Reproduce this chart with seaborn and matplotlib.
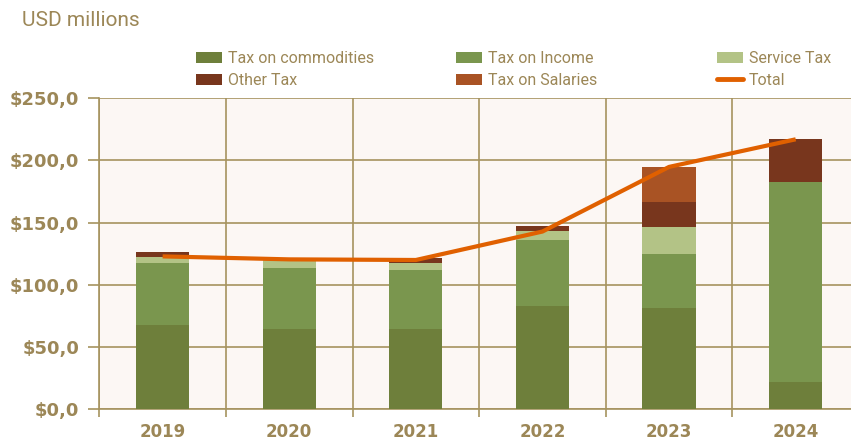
import numpy as np
import pandas as pd
import matplotlib
matplotlib.use("Agg")
import matplotlib.pyplot as plt
from matplotlib.patches import Patch
from matplotlib.lines import Line2D
from matplotlib.ticker import FuncFormatter, MultipleLocator
import seaborn as sns

# ---- data (USD millions) ----
years = ["2019", "2020", "2021", "2022", "2023", "2024"]
tax_commodities = [67.6, 64.4, 64.4, 83.0, 81.3, 21.7]
tax_income = [50.1, 49.0, 47.4, 53.0, 43.4, 160.9]
service_tax = [4.6, 6.5, 5.7, 7.2, 21.7, 0.0]
other_tax = [4.0, 0.0, 4.0, 4.0, 20.1, 34.6]
tax_salaries = [0.0, 0.0, 0.0, 0.0, 28.2, 0.0]
total = [122.8, 120.4, 119.9, 142.8, 194.8, 217.0]

series_names = ["Tax on commodities", "Tax on Income", "Service Tax",
                "Other Tax", "Tax on Salaries"]
series_values = [tax_commodities, tax_income, service_tax, other_tax, tax_salaries]
series_colors = ["#6e7f3b", "#7a964e", "#b3c386", "#78361d", "#a95324"]
total_color = "#e06000"

text_color = "#9c8757"
grid_color = "#a6935f"
plot_bg = "#fcf7f4"

sns.set_theme(style="white")
plt.rcParams["font.family"] = ["DejaVu Sans"]

fig = plt.figure(figsize=(8.51, 4.41), dpi=100)
fig.patch.set_facecolor("white")
ax = fig.add_axes([99.3 / 851, 32 / 441, 759.7 / 851, 310.7 / 441])
ax.set_facecolor(plot_bg)

# ---- stacked bars ----
df = pd.DataFrame({"year": years})
bottom = np.zeros(len(years))
for name, vals, col in zip(series_names, series_values, series_colors):
    df[name] = vals
    sns.barplot(data=df, x="year", y=name, order=years, color=col,
                width=0.42, bottom=bottom, saturation=1, ax=ax,
                linewidth=0, zorder=3)
    bottom = bottom + np.asarray(vals)

# ---- total line ----
sns.lineplot(x=np.arange(len(years)), y=total, color=total_color,
             linewidth=3.0, ax=ax, zorder=4, solid_capstyle="butt")

# ---- axes styling ----
ax.set_xlim(-0.5, len(years) - 0.5)
ax.set_ylim(0, 250)
ax.yaxis.set_major_locator(MultipleLocator(50))
ax.yaxis.set_major_formatter(
    FuncFormatter(lambda v, p: "$" + f"{v:.1f}".replace(".", ",")))
ax.set_xticks(np.arange(len(years)))
ax.set_xticklabels(years)
ax.set_xticks(np.arange(len(years) + 1) - 0.5, minor=True)
ax.set_xlabel("")
ax.set_ylabel("")

ax.grid(False)
ax.yaxis.grid(True, color=grid_color, linewidth=1.2, zorder=0)
ax.xaxis.grid(True, which="minor", color=grid_color, linewidth=1.2, zorder=0)
ax.set_axisbelow(True)

for side in ["top", "right"]:
    ax.spines[side].set_visible(False)
for side in ["left", "bottom"]:
    ax.spines[side].set_color(grid_color)
    ax.spines[side].set_linewidth(1.2)

ax.tick_params(axis="y", which="major", direction="out", length=8, width=1.2,
               color=grid_color, pad=6.5, labelcolor=text_color, left=True)
ax.tick_params(axis="x", which="major", length=0, pad=10, labelcolor=text_color)
ax.tick_params(axis="x", which="minor", direction="out", length=6, width=1.2,
               color=grid_color, bottom=True)
for lab in ax.get_yticklabels():
    lab.set_fontsize(13)
    lab.set_fontweight("bold")
for lab in ax.get_xticklabels():
    lab.set_fontsize(12)
    lab.set_fontweight("bold")

# ---- unit label ----
fig.text(22 / 851, 1 - 21 / 441, "USD millions", fontsize=15,
         family="Roboto", color=text_color, va="center", ha="left")

# ---- legend, laid out as three columns ----
handles = [Patch(facecolor=c, edgecolor="none") for c in series_colors]
handles.append(Line2D([0], [0], color=total_color, linewidth=3.5,
                      solid_capstyle="round"))
labels = series_names + ["Total"]
columns = [([0, 3], 196), ([1, 4], 456), ([2, 5], 717)]
for idx, xpix in columns:
    leg = fig.legend([handles[i] for i in idx], [labels[i] for i in idx],
                     loc="upper left", bbox_to_anchor=(xpix / 851, 1 - 51 / 441),
                     frameon=False, borderpad=0, borderaxespad=0,
                     handlelength=1.625, handleheight=0.75, handletextpad=0.35,
                     labelspacing=0.45,
                     prop={"family": "Roboto", "size": 11.5})
    for t in leg.get_texts():
        t.set_color(text_color)

fig.savefig("out.png", dpi=100, facecolor="white")
